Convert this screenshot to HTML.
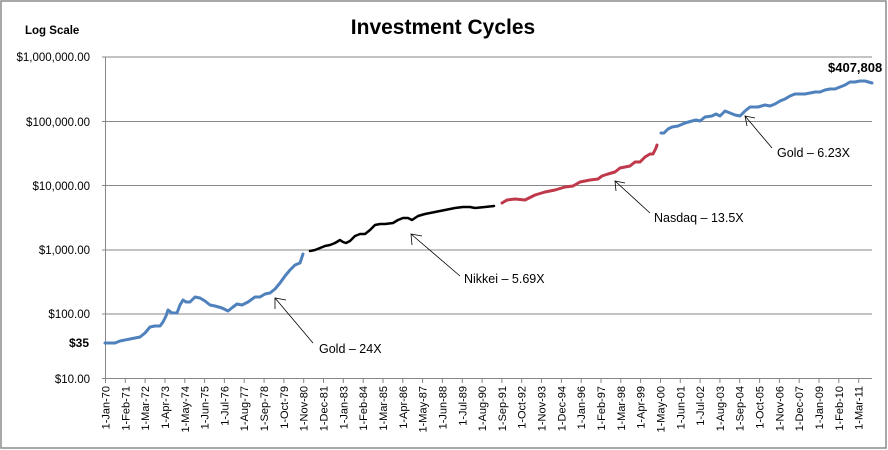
<!DOCTYPE html>
<html><head><style>
html,body{margin:0;padding:0;background:#fff}
svg{display:block}
text{font-family:"Liberation Sans",Calibri,sans-serif}
</style></head><body>
<svg width="888" height="450" viewBox="0 0 888 450" xmlns="http://www.w3.org/2000/svg">
<rect x="1" y="1" width="885" height="447" fill="#fff" stroke="#8c8c8c" stroke-width="1.5"/>
<text x="443" y="34" font-size="21" font-weight="bold" text-anchor="middle">Investment Cycles</text>
<text x="25" y="34" font-size="11.5" font-weight="bold">Log Scale</text>
<g stroke="#878787" stroke-width="1">
<line x1="102" y1="57" x2="872" y2="57"/>
<line x1="102" y1="121.5" x2="872" y2="121.5"/>
<line x1="102" y1="185.5" x2="872" y2="185.5"/>
<line x1="102" y1="250" x2="872" y2="250"/>
<line x1="102" y1="314" x2="872" y2="314"/>
<line x1="102" y1="378.5" x2="872" y2="378.5"/>
<line x1="105.5" y1="57" x2="105.5" y2="378.5"/>
</g>
<g font-size="11.5" text-anchor="end" fill="#000">
<text x="90" y="61">$1,000,000.00</text>
<text x="90" y="126">$100,000.00</text>
<text x="90" y="190">$10,000.00</text>
<text x="90" y="254">$1,000.00</text>
<text x="90" y="318">$100.00</text>
<text x="90" y="383">$10.00</text>
<text x="89" y="347" font-weight="bold" font-size="12">$35</text>
</g>
<g stroke="#878787">
<path d="M105.5 378v5M125.3 378v5M145.1 378v5M165 378v5M184.8 378v5M204.6 378v5M224.4 378v5M244.2 378v5M264.1 378v5M283.9 378v5M303.7 378v5M323.5 378v5M343.3 378v5M363.2 378v5M383 378v5M402.8 378v5M422.6 378v5M442.4 378v5M462.3 378v5M482.1 378v5M501.9 378v5M521.7 378v5M541.5 378v5M561.4 378v5M581.2 378v5M601 378v5M620.8 378v5M640.6 378v5M660.5 378v5M680.3 378v5M700.1 378v5M719.9 378v5M739.7 378v5M759.6 378v5M779.4 378v5M799.2 378v5M819 378v5M838.8 378v5M858.7 378v5"/>
</g>
<g font-size="11" text-anchor="end">
<text transform="translate(109.5,386) rotate(-90)">1-Jan-70</text>
<text transform="translate(129.3,386) rotate(-90)">1-Feb-71</text>
<text transform="translate(149.1,386) rotate(-90)">1-Mar-72</text>
<text transform="translate(169,386) rotate(-90)">1-Apr-73</text>
<text transform="translate(188.8,386) rotate(-90)">1-May-74</text>
<text transform="translate(208.6,386) rotate(-90)">1-Jun-75</text>
<text transform="translate(228.4,386) rotate(-90)">1-Jul-76</text>
<text transform="translate(248.2,386) rotate(-90)">1-Aug-77</text>
<text transform="translate(268.1,386) rotate(-90)">1-Sep-78</text>
<text transform="translate(287.9,386) rotate(-90)">1-Oct-79</text>
<text transform="translate(307.7,386) rotate(-90)">1-Nov-80</text>
<text transform="translate(327.5,386) rotate(-90)">1-Dec-81</text>
<text transform="translate(347.3,386) rotate(-90)">1-Jan-83</text>
<text transform="translate(367.2,386) rotate(-90)">1-Feb-84</text>
<text transform="translate(387,386) rotate(-90)">1-Mar-85</text>
<text transform="translate(406.8,386) rotate(-90)">1-Apr-86</text>
<text transform="translate(426.6,386) rotate(-90)">1-May-87</text>
<text transform="translate(446.4,386) rotate(-90)">1-Jun-88</text>
<text transform="translate(466.3,386) rotate(-90)">1-Jul-89</text>
<text transform="translate(486.1,386) rotate(-90)">1-Aug-90</text>
<text transform="translate(505.9,386) rotate(-90)">1-Sep-91</text>
<text transform="translate(525.7,386) rotate(-90)">1-Oct-92</text>
<text transform="translate(545.5,386) rotate(-90)">1-Nov-93</text>
<text transform="translate(565.4,386) rotate(-90)">1-Dec-94</text>
<text transform="translate(585.2,386) rotate(-90)">1-Jan-96</text>
<text transform="translate(605,386) rotate(-90)">1-Feb-97</text>
<text transform="translate(624.8,386) rotate(-90)">1-Mar-98</text>
<text transform="translate(644.6,386) rotate(-90)">1-Apr-99</text>
<text transform="translate(664.5,386) rotate(-90)">1-May-00</text>
<text transform="translate(684.3,386) rotate(-90)">1-Jun-01</text>
<text transform="translate(704.1,386) rotate(-90)">1-Jul-02</text>
<text transform="translate(723.9,386) rotate(-90)">1-Aug-03</text>
<text transform="translate(743.7,386) rotate(-90)">1-Sep-04</text>
<text transform="translate(763.6,386) rotate(-90)">1-Oct-05</text>
<text transform="translate(783.4,386) rotate(-90)">1-Nov-06</text>
<text transform="translate(803.2,386) rotate(-90)">1-Dec-07</text>
<text transform="translate(823,386) rotate(-90)">1-Jan-09</text>
<text transform="translate(842.8,386) rotate(-90)">1-Feb-10</text>
<text transform="translate(862.7,386) rotate(-90)">1-Mar-11</text>
</g>
<g fill="none" stroke-width="3" stroke-linejoin="round" stroke-linecap="round">
<polyline stroke="#4f81bd" points="105,343 115,343 120,341 130,339 140,337 145,333 150,327 155,326 160,326 163,322 166,316 168,310 172,313 177,313 180,305 183,300 186,302 190,302 195,297 200,298 205,301 210,305 215,306 222,308 228,311 233,307 237,304 242,305 248,302 255,297 260,297 265,294 270,293 275,289 280,283 285,276 290,270 295,265 300,263 303,254"/>
<polyline stroke="#000" stroke-width="2.5" points="310,251 315,250 320,248 325,246 330,245 335,243 340,240 343,242 346,243 350,241 355,236 360,234 365,234 370,230 375,225 380,224 385,224 393,223 398,220 403,218 408,218 412,220 418,216 425,214 435,212 445,210 455,208 463,207 470,207 475,208 485,207 494,206"/>
<polyline stroke="#c0394b" points="502,203 507,200 515,199 525,200 535,195 545,192 555,190 565,187 573,186 580,182 590,180 598,179 602,176 608,174 615,172 620,168 625,167 630,166 635,162 640,162 645,157 650,154 653,154 656,148 657,145"/>
<polyline stroke="#4f81bd" points="661,133 664,133 668,129 672,127 678,126 685,123 692,121 696,120 700,121 705,117 712,116 716,114 720,116 725,111 735,115 740,116 745,111 750,107 758,107 765,105 770,106 775,104 780,101 785,99 790,96 795,94 800,94 805,94 810,93 815,92 820,92 825,90 830,89 835,89 840,87 845,85 850,82 855,82 860,81 865,81 872,83"/>
</g>
<g stroke="#000" stroke-width="0.8" fill="none">
<line x1="313" y1="343" x2="275" y2="298"/><polyline points="275,309 275,298 286,300"/>
<line x1="460" y1="276" x2="411" y2="234"/><polyline points="412,245 411,234 422,236"/>
<line x1="650" y1="213" x2="615" y2="181"/><polyline points="616,191 615,181 625,183"/>
<line x1="772" y1="148" x2="745" y2="116"/><polyline points="747,126 745,116 755,118"/>
</g>
<g font-size="12.5">
<text x="319" y="353">Gold – 24X</text>
<text x="464" y="283">Nikkei – 5.69X</text>
<text x="654" y="222">Nasdaq – 13.5X</text>
<text x="777" y="157">Gold – 6.23X</text>
<text x="828" y="72" font-weight="bold" font-size="13">$407,808</text>
</g>
</svg>
</body></html>
